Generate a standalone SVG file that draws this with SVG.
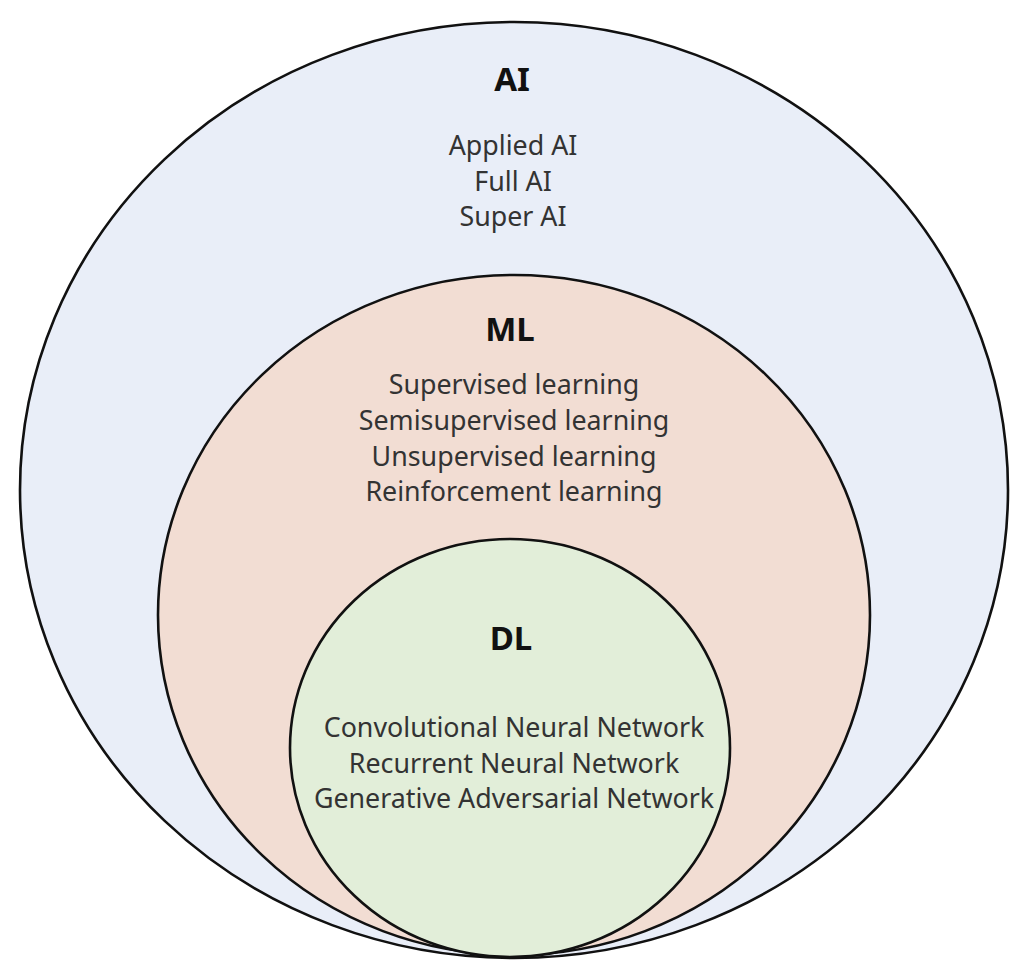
<svg xmlns="http://www.w3.org/2000/svg" width="1024" height="966" viewBox="0 0 1024 966">
<style>
.ring{stroke:#111;stroke-width:2.6}
.title{font-family:"Noto Sans","Liberation Sans",sans-serif;font-weight:bold;font-size:33px;fill:#111;text-anchor:middle}
.item{font-family:"Noto Sans","Liberation Sans",sans-serif;font-size:26.8px;fill:#333;text-anchor:middle}
</style>
<rect width="1024" height="966" fill="#fff"/>
<g id="ai">
<ellipse class="ring" cx="514" cy="490" rx="494" ry="468" fill="#E9EEF8"/>
<text class="title" x="512" y="91">AI</text>
<text class="item" x="513" y="155">Applied AI</text>
<text class="item" x="513" y="191">Full AI</text>
<text class="item" x="513" y="226">Super AI</text>
</g>
<g id="ml">
<ellipse class="ring" cx="514" cy="615" rx="356" ry="340" fill="#F2DDD3"/>
<text class="title" x="510" y="341">ML</text>
<text class="item" x="514" y="394">Supervised learning</text>
<text class="item" x="514" y="430">Semisupervised learning</text>
<text class="item" x="514" y="466">Unsupervised learning</text>
<text class="item" x="514" y="501">Reinforcement learning</text>
</g>
<g id="dl">
<ellipse class="ring" cx="510" cy="748" rx="220" ry="209" fill="#E2EED9"/>
<text class="title" x="511" y="650">DL</text>
<text class="item" x="514" y="737">Convolutional Neural Network</text>
<text class="item" x="514" y="773">Recurrent Neural Network</text>
<text class="item" x="514" y="808">Generative Adversarial Network</text>
</g>
<g id="connectors"/>
</svg>
